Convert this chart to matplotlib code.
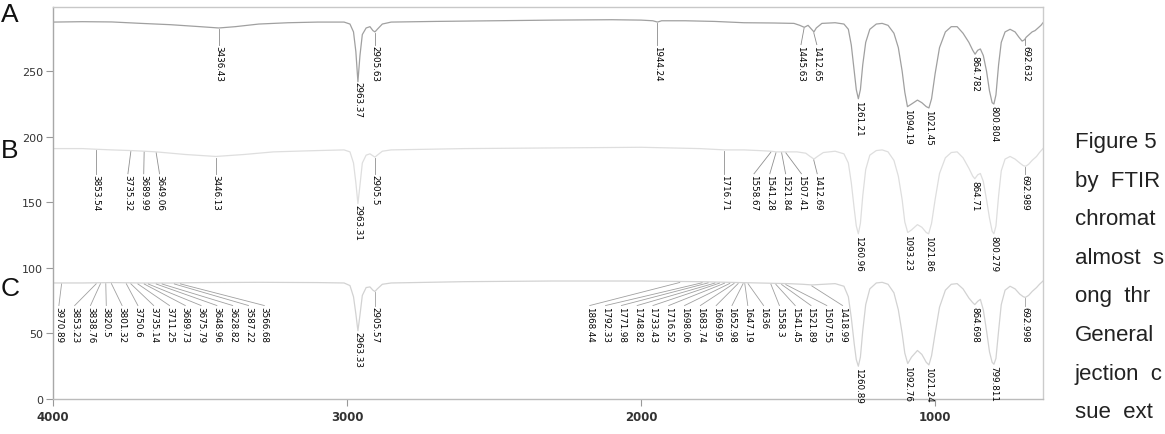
import numpy as np
import matplotlib.pyplot as plt
from matplotlib import font_manager

# traced spectra: wavenumber (cm-1) and transmittance
a_wn = [4000, 3900, 3800, 3700, 3600, 3500, 3436, 3380, 3300, 3200, 3100, 3010, 2990, 2978, 2970,
        2963, 2956, 2948, 2935, 2922, 2912, 2905, 2897, 2880, 2850, 2700, 2500, 2300, 2100, 2000,
        1960, 1944, 1930, 1850, 1750, 1650, 1550, 1480, 1460, 1445, 1432, 1420, 1412, 1404, 1385,
        1340, 1310, 1295, 1285, 1275, 1268, 1261, 1254, 1246, 1236, 1222, 1200, 1180, 1160, 1140,
        1125, 1112, 1103, 1094, 1080, 1060, 1045, 1030, 1021, 1012, 1000, 985, 965, 945, 925,
        905, 885, 872, 864, 855, 846, 836, 825, 815, 806, 800, 793, 784, 775, 762,
        745, 728, 715, 704, 696, 690, 680, 670, 660, 650, 640, 633]
a_t = [287.5, 287.8, 287.6, 286.5, 285.5, 284, 283, 284, 286, 287, 287.5, 287.5, 286, 280, 265,
       242, 262, 278, 283, 284, 281, 280, 282, 286, 287.5, 288, 288.5, 289, 289.3, 289,
       288.5, 287.5, 288.5, 288.5, 288, 287, 286.8, 286.5, 285, 283.5, 285, 282, 280, 283, 286.5,
       287, 286, 282, 270, 250, 236, 229, 236, 255, 272, 282, 286, 286.5, 285, 279,
       268, 250, 234, 223, 225, 228, 226, 223, 222, 229, 248, 268, 280, 284, 284,
       279, 272, 266, 263, 266, 267, 262, 250, 235, 226, 225, 232, 255, 272, 280,
       282, 280, 276, 273, 274, 276, 278, 280, 281, 283, 285, 287]

b_wn = [4000, 3900, 3853, 3800, 3735, 3690, 3649, 3550, 3446, 3350, 3250, 3100, 3010, 2990, 2978,
        2970, 2963, 2956, 2948, 2935, 2922, 2912, 2905, 2897, 2880, 2850, 2600, 2300, 2000, 1800,
        1716, 1650, 1600, 1558, 1541, 1521, 1507, 1470, 1440, 1425, 1412, 1400, 1380, 1340, 1310,
        1295, 1285, 1275, 1268, 1261, 1254, 1246, 1236, 1222, 1200, 1180, 1160, 1140, 1125, 1112,
        1103, 1093, 1080, 1060, 1045, 1030, 1022, 1012, 1000, 985, 965, 945, 925, 905, 885,
        872, 865, 855, 846, 836, 825, 815, 806, 800, 793, 784, 775, 762, 745, 728,
        712, 700, 692, 682, 670, 655, 645, 633]
b_t = [191, 191, 190.5, 190, 189.5, 189, 188.5, 186.5, 185, 186.5, 188.5, 189.5, 190, 188.5, 180,
       165, 149, 163, 180, 186, 187, 185.5, 184.5, 186, 189, 190, 191, 191.5, 192, 191,
       190, 190, 189.5, 189, 188.5, 188.5, 188.5, 188.5, 187.5, 185, 183, 185, 188, 189, 187,
       180, 165, 145, 132, 126, 134, 155, 175, 186, 189.5, 190, 188.5, 182, 170, 152,
       135, 127, 129, 133, 131, 127, 126, 134, 152, 172, 184, 188, 188.5, 184, 176,
       170, 168, 171, 172, 166, 152, 138, 128, 126, 132, 155, 174, 183, 185, 183,
       180, 178, 177.5, 179, 182, 185, 188, 191]

c_wn = [4000, 3900, 3800, 3700, 3600, 3500, 3300, 3100, 3010, 2990, 2978, 2970, 2963, 2956, 2948,
        2935, 2922, 2912, 2905, 2897, 2880, 2850, 2600, 2300, 2000, 1800, 1700, 1600, 1500, 1450,
        1419, 1380, 1340, 1310, 1295, 1285, 1275, 1268, 1261, 1254, 1246, 1236, 1222, 1200, 1180,
        1160, 1140, 1125, 1112, 1103, 1093, 1080, 1060, 1045, 1030, 1021, 1012, 1000, 985, 965,
        945, 925, 905, 885, 872, 865, 855, 846, 836, 825, 815, 806, 800, 793, 784,
        775, 762, 745, 728, 712, 700, 693, 682, 670, 655, 645, 633]
c_t = [88.5, 88.5, 88.8, 88.5, 88.5, 88.8, 89, 88.8, 88.5, 86.5, 78, 65, 52, 64, 79,
       85, 85.5, 83, 82, 84, 87.5, 88.5, 89.5, 90, 90, 89.5, 89, 88.5, 88, 87.5,
       87, 87.5, 88, 86, 78, 62, 42, 30, 25, 32, 52, 72, 84, 88.5, 89,
       87.5, 81, 68, 50, 35, 27, 32, 37, 34, 28, 26, 33, 50, 70, 83,
       87.5, 88, 84, 77, 73.5, 72, 74.5, 76, 68, 52, 36, 28, 26.5, 31, 52,
       72, 83, 86, 84, 80, 78, 77.5, 79, 82, 85, 87.5, 90]

a_labels = ["3436.43", "2963.37", "2905.63", "1944.24", "1445.63", "1412.65", "1261.21",
            "1094.19", "1021.45", "864.782", "800.804", "692.632"]
b_labels = ["3853.54", "3735.32", "3689.99", "3649.06", "3446.13", "2963.31", "2905.5",
            "1716.71", "1558.67", "1541.28", "1521.84", "1507.41", "1412.69", "1260.96",
            "1093.23", "1021.86", "864.71", "800.279", "692.989"]
c_labels = ["3970.89", "3853.23", "3838.76", "3820.5", "3801.32", "3750.6", "3735.14",
            "3711.25", "3689.73", "3675.79", "3648.96", "3628.82", "3587.22", "3566.68",
            "2963.33", "2905.57", "1868.44", "1792.33", "1771.98", "1748.82", "1733.43",
            "1716.52", "1698.06", "1683.74", "1669.95", "1652.98", "1647.19", "1636",
            "1558.3", "1541.45", "1521.89", "1507.55", "1418.99", "1260.89", "1092.76",
            "1021.24", "864.698", "799.811", "692.998"]

caption = ["Figure 5", "by  FTIR", "chromat", "almost  s", "ong  thr", "General",
           "jection  c", "sue  ext"]

avail = {f.name for f in font_manager.fontManager.ttflist}
narrow = "Liberation Sans Narrow" if "Liberation Sans Narrow" in avail else "DejaVu Sans"
label_size = 8 if narrow != "DejaVu Sans" else 6.3

W, H = 1165, 435
fig = plt.figure(figsize=(W / 100, H / 100), dpi=100)
ax = fig.add_axes([53 / W, 35 / H, 990 / W, 392 / H])
ax.set_xlim(4000, 633)
ax.set_ylim(0, 299)
px = 990 / (4000 - 633)   # pixels per cm-1
gap = 15.8 / px


def spread(targets, fixed, lo, hi):
    # 1D label repel: targets and fixed are in -wn (increasing to the right)
    groups = [[t] for t in targets]

    def start_of(g):
        n = len(g)
        s = np.mean(g) - (n - 1) * gap / 2
        s = min(max(s, lo), hi - (n - 1) * gap)
        for f in fixed:
            e = s + (n - 1) * gap
            if s - gap < f < e + gap:
                if f > np.mean(g):
                    s = f - gap - (n - 1) * gap
                else:
                    s = f + gap
        return s

    changed = True
    while changed:
        changed = False
        for i in range(len(groups) - 1):
            e0 = start_of(groups[i]) + (len(groups[i]) - 1) * gap
            if start_of(groups[i + 1]) - e0 < gap - 1e-9:
                groups[i] += groups.pop(i + 1)
                changed = True
                break
    pos = []
    for g in groups:
        s = start_of(g)
        pos += [s + k * gap for k in range(len(g))]
    return pos


def draw_spectrum(wn, t, labels, level, color, lead):
    wn = np.array(wn, float)
    t = np.array(t, float)
    ax.plot(wn, t, color=color, lw=0.9, zorder=2)
    peaks = np.array([float(s) for s in labels])
    depth = np.interp(peaks, wn[::-1], t[::-1])
    deep = depth - 2 < level
    for p, d, s in zip(peaks[deep], depth[deep], np.array(labels)[deep]):
        ax.text(p, d - 1.0, s, rotation=270, ha="center", va="top",
                fontsize=label_size, family=narrow, color="#000000", zorder=4)
    idx = np.where(~deep)[0]
    idx = idx[np.argsort(-peaks[idx])]
    pos = spread(list(-peaks[idx]), list(-peaks[deep]), -3980, -640)
    for i, u in zip(idx, pos):
        lx = -u
        ax.plot([peaks[i], lx], [depth[i] - 0.8, level + 0.3], color=lead, lw=0.6, zorder=3)
        ax.text(lx, level, labels[i], rotation=270, ha="center", va="top",
                fontsize=label_size, family=narrow, color="#000000", zorder=4)


draw_spectrum(a_wn, a_t, a_labels, 270, "#a0a0a0", "#8a8a8a")
draw_spectrum(b_wn, b_t, b_labels, 171.5, "#dedede", "#8f8f8f")
draw_spectrum(c_wn, c_t, c_labels, 71, "#d2d2d2", "#a0a0a0")

ax.set_yticks([0, 50, 100, 150, 200, 250])
ax.set_xticks([4000, 3000, 2000, 1000])
ax.tick_params(axis="y", length=5, width=0.8, color="#999999", labelsize=8,
               labelcolor="#333333", pad=2)
ax.tick_params(axis="x", length=5, width=0.8, color="#999999", labelsize=8.5,
               labelcolor="#333333", pad=3)
for lab in ax.get_xticklabels():
    lab.set_fontweight("bold")
for side, c in [("left", "#a8a8a8"), ("bottom", "#bbbbbb"), ("top", "#c8c8c8"), ("right", "#cccccc")]:
    ax.spines[side].set_color(c)
    ax.spines[side].set_linewidth(1.0)

for letter, base in [("A", 22), ("B", 158), ("C", 296)]:
    fig.text(1 / W, 1 - base / H, letter, ha="left", va="baseline", fontsize=19,
             family="Liberation Sans", color="#111111")

for k, line in enumerate(caption):
    fig.text(1075 / W, 1 - (148 + k * 38.6) / H, line, ha="left", va="baseline",
             fontsize=16, family="Liberation Sans", color="#222222")

fig.savefig("out.png", dpi=100)
